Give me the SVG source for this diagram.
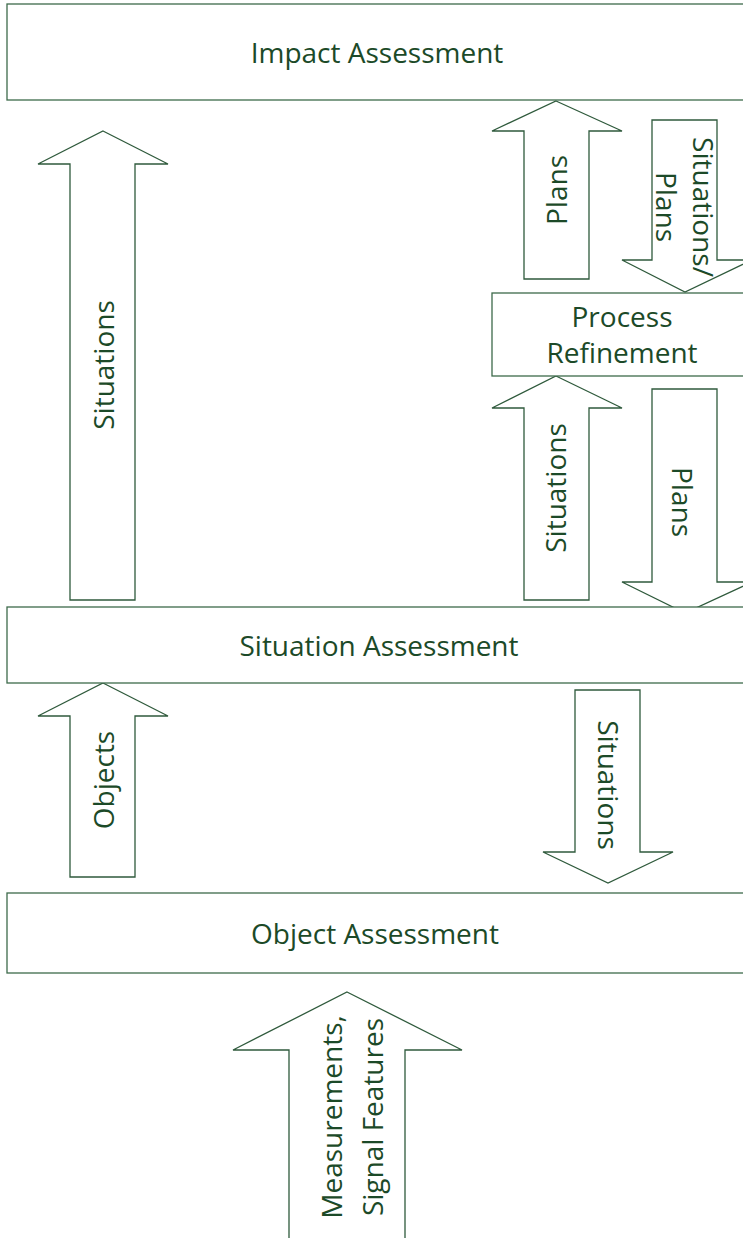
<svg xmlns="http://www.w3.org/2000/svg" width="743" height="1238" viewBox="0 0 743 1238">
  <style>
    .box { fill: #ffffff; stroke: #3d6a4b; stroke-width: 1.3; }
    .arrow { fill: #ffffff; stroke: #2f5a3c; stroke-width: 1.3; stroke-linejoin: miter; }
    .lbl { font-family: "Open Sans", "Liberation Sans", sans-serif; font-size: 28px; fill: #1c4a28; text-anchor: middle; dominant-baseline: central; }
  </style>
  <rect width="743" height="1238" fill="#ffffff"/>

  <g id="connectors">
    <!-- Situations: Situation Assessment -> Impact Assessment -->
    <polygon class="arrow" points="103,131 168,164 135,164 135,600 70,600 70,164 38,164"/>
    <!-- Plans: Process Refinement -> Impact Assessment -->
    <polygon class="arrow" points="556,101 622,131 589,131 589,279 524,279 524,131 492,131"/>
    <!-- Situations/Plans: Impact Assessment -> Process Refinement -->
    <polygon class="arrow" points="652,120 717,120 717,260 752,260 685,292 622,260 652,260"/>
    <!-- Situations: Situation Assessment -> Process Refinement -->
    <polygon class="arrow" points="556,376 622,408 589,408 589,600 524,600 524,408 492,408"/>
    <!-- Plans: Process Refinement -> Situation Assessment -->
    <polygon class="arrow" points="652,389 717,389 717,582 752,582 685,613 622,582 652,582"/>
    <!-- Objects: Object Assessment -> Situation Assessment -->
    <polygon class="arrow" points="103,683 168,716 135,716 135,877 70,877 70,716 38,716"/>
    <!-- Situations: Situation Assessment -> Object Assessment -->
    <polygon class="arrow" points="575,690 640,690 640,852 673,852 608,883 543,852 575,852"/>
    <!-- Measurements, Signal Features -> Object Assessment -->
    <polygon class="arrow" points="347,992 462,1050 405,1050 405,1250 289,1250 289,1050 233,1050"/>

    <text class="lbl" transform="translate(103,365) rotate(-90)">Situations</text>
    <text class="lbl" transform="translate(556,190) rotate(-90)">Plans</text>
    <text class="lbl" transform="translate(704,207) rotate(90)">Situations/</text>
    <text class="lbl" transform="translate(667,207) rotate(90)">Plans</text>
    <text class="lbl" transform="translate(555,488) rotate(-90)">Situations</text>
    <text class="lbl" transform="translate(683,502) rotate(90)">Plans</text>
    <text class="lbl" transform="translate(103,780) rotate(-90)">Objects</text>
    <text class="lbl" transform="translate(609,785) rotate(90)">Situations</text>
    <text class="lbl" transform="translate(331,1117) rotate(-90)">Measurements,</text>
    <text class="lbl" transform="translate(372,1117) rotate(-90)">Signal Features</text>
  </g>

  <g id="impact-assessment">
    <rect class="box" x="7" y="4" width="750" height="96"/>
    <text class="lbl" x="377" y="52">Impact Assessment</text>
  </g>

  <g id="process-refinement">
    <rect class="box" x="492" y="293" width="265" height="83"/>
    <text class="lbl" x="622" y="316">Process</text>
    <text class="lbl" x="622" y="352">Refinement</text>
  </g>

  <g id="situation-assessment">
    <rect class="box" x="7" y="607" width="750" height="76"/>
    <text class="lbl" x="379" y="645">Situation Assessment</text>
  </g>

  <g id="object-assessment">
    <rect class="box" x="7" y="893" width="750" height="80"/>
    <text class="lbl" x="375" y="933">Object Assessment</text>
  </g>
</svg>
